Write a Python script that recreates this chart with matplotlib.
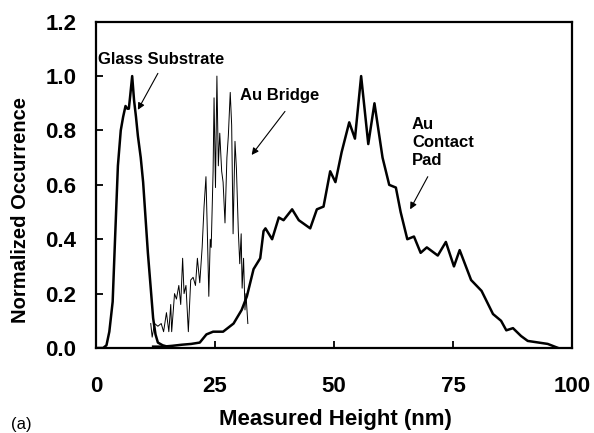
import matplotlib
matplotlib.use("Agg")
import matplotlib.pyplot as plt

plt.rcParams['font.family'] = ['Liberation Sans', 'DejaVu Sans']

# Glass substrate histogram
glass_x = [0.5, 1.5, 2.2, 2.8, 3.5, 4.0, 4.6, 5.2, 5.7, 6.2, 6.6, 6.9, 7.2, 7.6, 8.0,
           8.4, 8.8, 9.4, 9.9, 10.4, 10.9, 11.5, 12.0, 12.5, 13.0, 14.0, 15.0]
glass_y = [0.0, 0.0, 0.01, 0.06, 0.17, 0.40, 0.67, 0.80, 0.85, 0.89, 0.88, 0.88, 0.93, 1.0, 0.91,
           0.85, 0.78, 0.70, 0.61, 0.48, 0.35, 0.22, 0.11, 0.05, 0.02, 0.01, 0.005]

# Au bridge histogram (noisy)
bridge_x = [11.5, 11.8, 12.3, 13.0, 13.7, 14.2, 14.8, 15.3, 15.7, 15.9, 16.5, 16.9, 17.4, 17.8,
            18.2, 18.5, 18.9, 19.4, 19.9, 20.4, 20.9, 21.3, 21.8, 22.3, 22.7, 23.1, 23.4, 23.7,
            24.0, 24.2, 24.6, 24.8, 25.1, 25.4, 25.7, 26.0, 26.4, 26.7, 27.1, 27.5, 27.8, 28.2,
            28.5, 28.8, 29.2, 29.5, 29.9, 30.2, 30.5, 30.7, 31.0, 31.3, 31.5, 31.9]
bridge_y = [0.09, 0.04, 0.09, 0.08, 0.09, 0.06, 0.13, 0.06, 0.16, 0.06, 0.20, 0.18, 0.23, 0.16,
            0.33, 0.20, 0.23, 0.06, 0.25, 0.26, 0.23, 0.33, 0.24, 0.37, 0.52, 0.63, 0.42, 0.19,
            0.40, 0.37, 0.65, 0.92, 0.59, 1.0, 0.67, 0.79, 0.65, 0.61, 0.46, 0.70, 0.78, 0.94,
            0.82, 0.42, 0.76, 0.66, 0.43, 0.31, 0.42, 0.22, 0.33, 0.14, 0.20, 0.09]

# Au contact pad histogram
pad_x = [12, 14, 16, 18, 20, 21.8, 23.2, 24.6, 26.7, 28.9, 30.6, 31.7, 33.1, 34.5, 35.2, 35.6,
         37.0, 38.4, 39.4, 41.2, 42.6, 45.0, 46.4, 47.8, 49.2, 50.3, 51.6, 53.2, 54.4, 55.7,
         57.2, 58.5, 60.2, 61.6, 63.0, 64.0, 65.4, 66.8, 68.2, 69.5, 71.8, 73.5, 75.2, 76.4,
         78.8, 81.0, 83.4, 85.1, 86.2, 87.6, 89.3, 90.7, 94.9, 97.1]
pad_y = [0.005, 0.005, 0.008, 0.012, 0.015, 0.02, 0.05, 0.06, 0.06, 0.09, 0.14, 0.19, 0.29, 0.33,
         0.43, 0.44, 0.40, 0.48, 0.47, 0.51, 0.47, 0.44, 0.51, 0.52, 0.65, 0.61, 0.72, 0.83, 0.77,
         1.0, 0.75, 0.90, 0.70, 0.60, 0.59, 0.50, 0.40, 0.41, 0.35, 0.37, 0.34, 0.39, 0.30, 0.36,
         0.25, 0.21, 0.125, 0.10, 0.065, 0.073, 0.044, 0.026, 0.015, 0.0]

x_ticks = [0, 25, 50, 75, 100]
y_ticks = [0.0, 0.2, 0.4, 0.6, 0.8, 1.0, 1.2]

W, H = 594, 433
fig = plt.figure(figsize=(W / 100, H / 100), dpi=100)
ax = fig.add_axes([96 / W, 1 - 348 / H, 476 / W, 326.3 / H])

ax.plot(glass_x, glass_y, color='black', lw=1.8)
ax.plot(pad_x, pad_y, color='black', lw=1.8)
ax.plot(bridge_x, bridge_y, color='black', lw=0.7)

ax.set_xlim(0, 100)
ax.set_ylim(0, 1.2)
ax.set_xticks(x_ticks)
ax.set_yticks(y_ticks)
ax.set_xticklabels([str(t) for t in x_ticks])
ax.set_yticklabels([f"{t:.1f}" for t in y_ticks])
ax.tick_params(axis='both', direction='in', length=5, width=1.3, labelsize=16)
ax.tick_params(axis='x', pad=20)
ax.tick_params(axis='y', pad=14)
for lab in ax.get_xticklabels() + ax.get_yticklabels():
    lab.set_fontweight('bold')
for s in ax.spines.values():
    s.set_linewidth(1.6)

arrow = dict(arrowstyle='-|>', color='black', lw=0.8, mutation_scale=10, shrinkA=0, shrinkB=0)
ax.text(0.4, 1.06, 'Glass Substrate', fontsize=12, fontweight='bold', va='center', ha='left')
ax.annotate('', xy=(8.8, 0.876), xytext=(13.0, 1.01), arrowprops=arrow)
ax.text(30.3, 0.928, 'Au Bridge', fontsize=12, fontweight='bold', va='center', ha='left')
ax.annotate('', xy=(32.7, 0.71), xytext=(39.7, 0.87), arrowprops=arrow)
ax.text(66.4, 0.755, 'Au\nContact\nPad', fontsize=12, fontweight='bold', va='center', ha='left',
        linespacing=1.25)
ax.annotate('', xy=(66.0, 0.51), xytext=(69.7, 0.63), arrowprops=arrow)

fig.text(20.5 / W, 1 - 210 / H, 'Normalized Occurrence', rotation=90, fontsize=14.5,
         fontweight='bold', ha='center', va='center')
fig.text(335 / W, 1 - 419 / H, 'Measured Height (nm)', fontsize=16, fontweight='bold',
         ha='center', va='center')
fig.text(21 / W, 1 - 424 / H, '(a)', fontsize=12, ha='center', va='center')

fig.savefig('out.png', dpi=100)
